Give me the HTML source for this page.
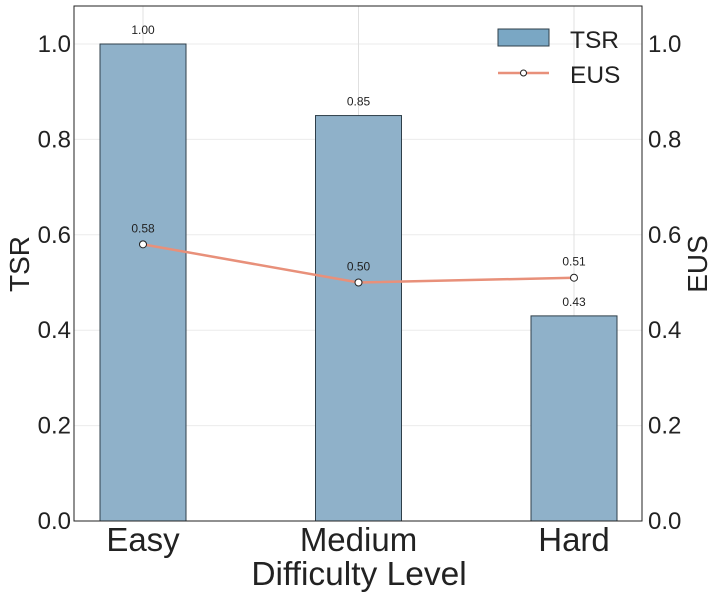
<!DOCTYPE html>
<html><head><meta charset="utf-8"><style>
body{margin:0;background:#fff;}
svg{display:block;font-family:"Liberation Sans",sans-serif;}
</style></head><body>
<svg id="chart" width="718" height="597" xmlns="http://www.w3.org/2000/svg"></svg>
<script>
const categories = ["Easy","Medium","Hard"];
const tsrValues = [1.00,0.85,0.43];
const eusValues = [0.58,0.50,0.51];
const yTicks = [0.0,0.2,0.4,0.6,0.8,1.0];

const L=74,R=642,T=6,B=521;
const yS=v=>B-v*477;
const xS=i=>143+i*215.5;
const svg=document.getElementById('chart');
const NS="http://www.w3.org/2000/svg";
function mk(tag,attrs,parent,text){const e=document.createElementNS(NS,tag);for(const k in attrs)e.setAttribute(k,attrs[k]);if(text!==undefined)e.textContent=text;(parent||svg).appendChild(e);return e;}

yTicks.forEach(v=>{const g=mk('line',{x1:L,x2:R,y1:yS(v),y2:yS(v),stroke:'#ebebeb','stroke-width':1});

});
categories.forEach((c,i)=>{const g=mk('line',{x1:xS(i),x2:xS(i),y1:T,y2:B,stroke:'#e0e0e0','stroke-width':1});

});

tsrValues.forEach((v,i)=>{
const b=mk('rect',{x:xS(i)-43,y:yS(v),width:86,height:B-yS(v),fill:'#8fb1c9',stroke:'#2f3f4a','stroke-width':1});


const t=mk('text',{x:xS(i),y:yS(v)-10,'text-anchor':'middle','font-size':12,fill:'#222'},svg,v.toFixed(2));


});

const pts=eusValues.map((v,i)=>xS(i)+','+yS(v)).join(' ');
const pl=mk('polyline',{points:pts,fill:'none',stroke:'#e8907a','stroke-width':2.5});


eusValues.forEach((v,i)=>{
const c=mk('circle',{cx:xS(i),cy:yS(v),r:3.5,fill:'#fff',stroke:'#222','stroke-width':1});


const t=mk('text',{x:xS(i),y:yS(v)-12,'text-anchor':'middle','font-size':12,fill:'#222'},svg,v.toFixed(2));


});

const f=mk('rect',{x:L,y:T,width:R-L,height:B-T,fill:'none',stroke:'#222','stroke-width':1});



yTicks.forEach(v=>{
const a=mk('text',{x:L-3,y:yS(v)+8,'text-anchor':'end','font-size':24,fill:'#222'},svg,v.toFixed(1));


const b=mk('text',{x:R+6,y:yS(v)+8,'text-anchor':'start','font-size':24,fill:'#222'},svg,v.toFixed(1));


});
categories.forEach((c,i)=>{
const t=mk('text',{x:xS(i),y:551,'text-anchor':'middle','font-size':33,fill:'#222'},svg,c);


});
</script>
<svg style="position:absolute;left:0;top:0" width="718" height="597" xmlns="http://www.w3.org/2000/svg" font-family="Liberation Sans, sans-serif">
<text x="359" y="585" text-anchor="middle" font-size="33.5" fill="#222">Difficulty Level</text>
<text transform="translate(29,264) rotate(-90)" text-anchor="middle" font-size="28" fill="#222">TSR</text>
<text transform="translate(707,264) rotate(-90)" text-anchor="middle" font-size="28" fill="#222">EUS</text>
<g>
<rect x="498" y="29" width="51" height="17" fill="#7aa7c4" stroke="#2f3f4a" stroke-width="1"/>
<text x="570" y="48" font-size="24.5" fill="#222">TSR</text>
<line x1="498" x2="549" y1="73" y2="73" stroke="#e8907a" stroke-width="2.5"/>
<circle cx="523.5" cy="73" r="3" fill="#fff" stroke="#222"/>
<text x="570" y="83" font-size="24.5" fill="#222">EUS</text>
</g>
</svg>
</body></html>
